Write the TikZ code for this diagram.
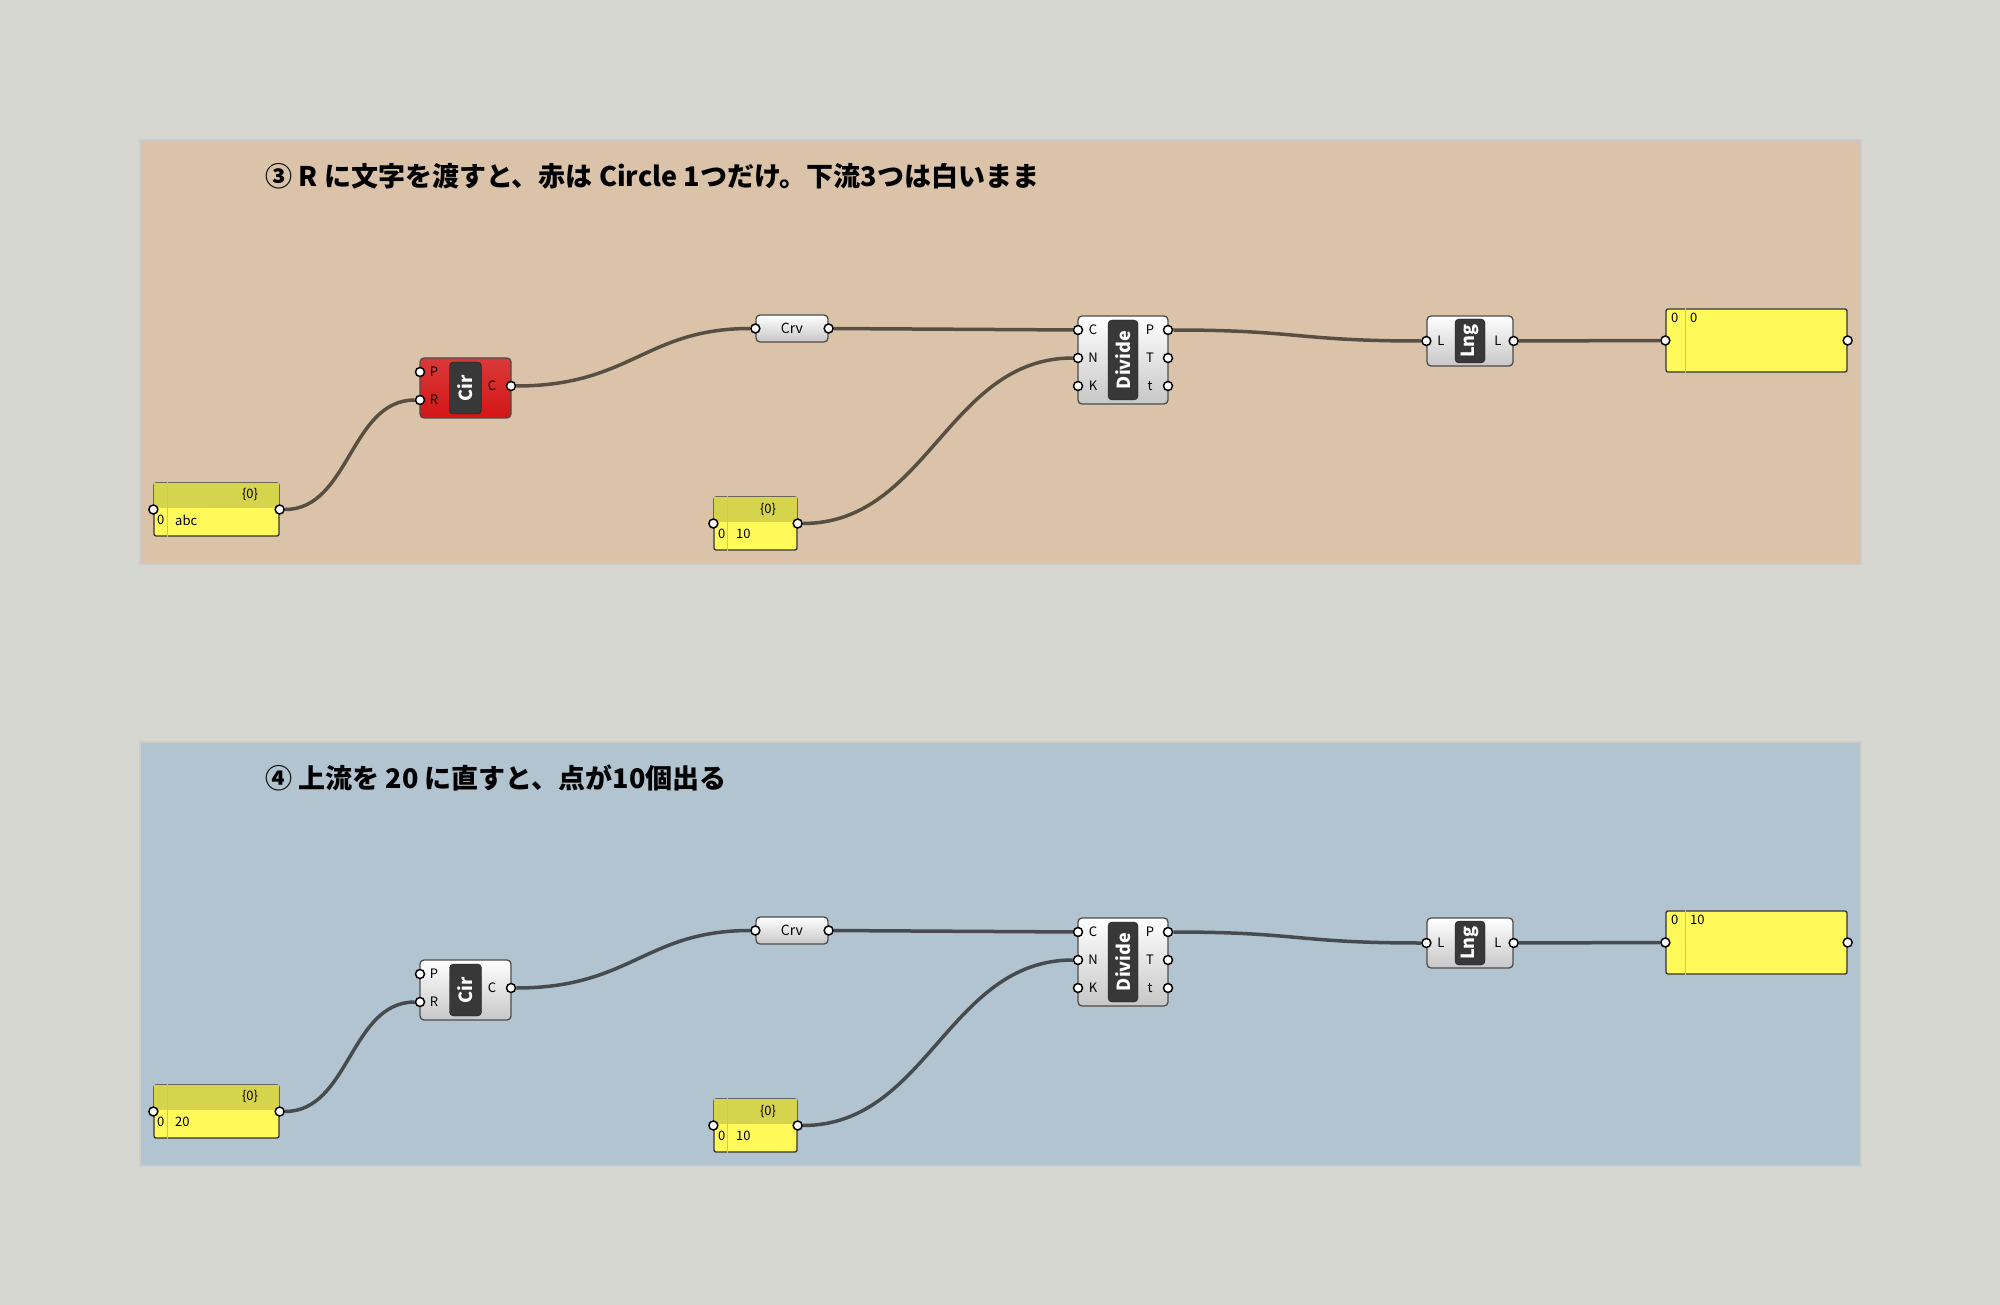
\documentclass[tikz,border=0pt]{standalone}
\usepackage{fontspec}
\setmainfont{Noto Sans CJK JP}
\usetikzlibrary{positioning,calc}
\definecolor{canvasbg}{RGB}{214,215,209}
\definecolor{grpA}{RGB}{219,195,170}
\definecolor{grpB}{RGB}{178,196,208}
\definecolor{paneltop}{RGB}{214,212,76}
\definecolor{panelbody}{RGB}{255,249,90}
\definecolor{errred}{RGB}{212,22,22}
\definecolor{wireA}{RGB}{88,78,66}
\definecolor{wireB}{RGB}{70,75,80}
\tikzset{
  % group box behind each step
  group/.style={draw=black!20, line width=1.5pt, minimum width=1721pt, minimum height=424pt},
  comp/.style={draw=black!70, line width=1.3pt, rounded corners=4pt, top color=white, bottom color=black!22},
  bad/.style={comp, top color=errred!85, bottom color=errred},
  tag/.style={fill=black!78, draw=black!90, rounded corners=4pt, text=white, font=\fontsize{18}{18}\selectfont\bfseries},
  panel/.style={draw=black!80, line width=1.3pt, rounded corners=2pt, fill=panelbody},
  lbl/.style={font=\fontsize{13}{13}\selectfont, inner sep=0pt},
  grip/.style={circle, draw=black, line width=1.5pt, fill=white, minimum size=9pt, inner sep=0pt},
  wire/.style={line width=3.5pt}
}
% one step: #1 prefix, #2 shift, #3 group colour, #4 title, #5 R value, #6 Cir style, #7 result, #8 wire colour
\newcommand\ghstep[8]{%
\begin{scope}[yshift=#2]
\node (#1grp) [group, fill=#3] at (1000.5,352) {};
\node (#1title) [anchor=west, font=\fontsize{27}{27}\selectfont\bfseries] at (262,176) {#4};
% number panel feeding R
\node (#1rad) [panel, minimum width=125pt, minimum height=53pt] at (216.5,509.5) {};
\fill [paneltop] ($(#1rad.north west)+(1pt,-1pt)$) rectangle ($(#1rad.east)+(-1pt,2pt)$);
\draw [black!25] ($(#1rad.north west)+(14pt,0)$) -- ($(#1rad.south west)+(14pt,0)$);
\node [lbl] at (250,494) {\{0\}};
\node [lbl, anchor=west] at (157,520) {0};
\node [lbl, anchor=west] at (175,520) {#5};
\node (#1radi) [grip] at (#1rad.west) {};
\node (#1rado) [grip] at (#1rad.east) {};
% circle
\node (#1cir) [#6, minimum width=91pt, minimum height=60pt] at (465.5,388) {};
\node (#1cirt) [tag, minimum width=32pt, minimum height=52pt] at (#1cir.center) {};
\node [rotate=90, text=white, font=\fontsize{18}{18}\selectfont\bfseries] at (#1cir.center) {Cir};
\node [lbl] at (434,372) {P};
\node [lbl] at (434,400) {R};
\node [lbl] at (492,386) {C};
\node (#1cirP) [grip] at (420,372) {};
\node (#1cirR) [grip] at (420,400) {};
\node (#1cirC) [grip] at (511,386) {};
% curve param
\node (#1crv) [comp, minimum width=72pt, minimum height=27pt, font=\fontsize{14}{14}\selectfont] at (792,328.5) {Crv};
\node (#1crvi) [grip] at (#1crv.west) {};
\node (#1crvo) [grip] at (#1crv.east) {};
% count panel
\node (#1cnt) [panel, minimum width=83pt, minimum height=53pt] at (755.5,523.5) {};
\fill [paneltop] ($(#1cnt.north west)+(1pt,-1pt)$) rectangle ($(#1cnt.east)+(-1pt,2pt)$);
\draw [black!25] ($(#1cnt.north west)+(14pt,0)$) -- ($(#1cnt.south west)+(14pt,0)$);
\node [lbl] at (768,509) {\{0\}};
\node [lbl, anchor=west] at (718,534) {0};
\node [lbl, anchor=west] at (736,534) {10};
\node (#1cnti) [grip] at (#1cnt.west) {};
\node (#1cnto) [grip] at (#1cnt.east) {};
% divide
\node (#1div) [comp, minimum width=90pt, minimum height=88pt] at (1123,360) {};
\node (#1divt) [tag, minimum width=30pt, minimum height=80pt] at (#1div.center) {};
\node [rotate=90, text=white, font=\fontsize{18}{18}\selectfont\bfseries] at (#1div.center) {Divide};
\foreach \n/\m/\y in {C/P/330, N/T/358, K/t/386} {
  \node [lbl] at (1093,\y) {\n};
  \node [lbl] at (1150,\y) {\m};
  \node (#1div\n) [grip] at (1078,\y) {};
  \node (#1div\m) [grip] at (1168,\y) {};
}
% length
\node (#1lng) [comp, minimum width=86pt, minimum height=50pt] at (1470,341) {};
\node (#1lngt) [tag, minimum width=30pt, minimum height=44pt] at (#1lng.center) {};
\node [rotate=90, text=white, font=\fontsize{18}{18}\selectfont\bfseries] at (#1lng.center) {Lng};
\node [lbl] at (1441,341) {L};
\node [lbl] at (1498,341) {L};
\node (#1lngi) [grip] at (#1lng.west) {};
\node (#1lngo) [grip] at (#1lng.east) {};
% result panel
\node (#1res) [panel, minimum width=181pt, minimum height=63pt] at (1756.5,340.5) {};
\draw [black!25] ($(#1res.north west)+(20pt,0)$) -- ($(#1res.south west)+(20pt,0)$);
\node [lbl, anchor=west] at (1671,318) {0};
\node [lbl, anchor=west] at (1690,318) {#7};
\node (#1resi) [grip] at (#1res.west) {};
\node (#1reso) [grip] at (#1res.east) {};
% wires
\draw [wire, #8] (#1rado) .. controls +(70pt,0) and +(-70pt,0) .. (#1cirR);
\draw [wire, #8] (#1cirC) .. controls +(120pt,0) and +(-110pt,0) .. (#1crvi);
\draw [wire, #8] (#1crvo) -- (#1divC);
\draw [wire, #8] (#1cnto) .. controls +(130pt,0) and +(-130pt,0) .. (#1divN);
\draw [wire, #8] (#1divP) .. controls +(130pt,0) and +(-130pt,0) .. (#1lngi);
\draw [wire, #8] (#1lngo) -- (#1resi);
\end{scope}}

\begin{document}
\begin{tikzpicture}[x=1pt, y=-1pt]
\fill [canvasbg] (0,0) rectangle (2000,1305);
\useasboundingbox (0,0) rectangle (2000,1305);
\ghstep{a}{0pt}{grpA}{③ R に文字を渡すと、赤は Circle 1つだけ。下流3つは白いまま}{abc}{bad}{0}{wireA}
\ghstep{b}{-602pt}{grpB}{④ 上流を 20 に直すと、点が10個出る}{20}{comp}{10}{wireB}
\end{tikzpicture}
\end{document}
